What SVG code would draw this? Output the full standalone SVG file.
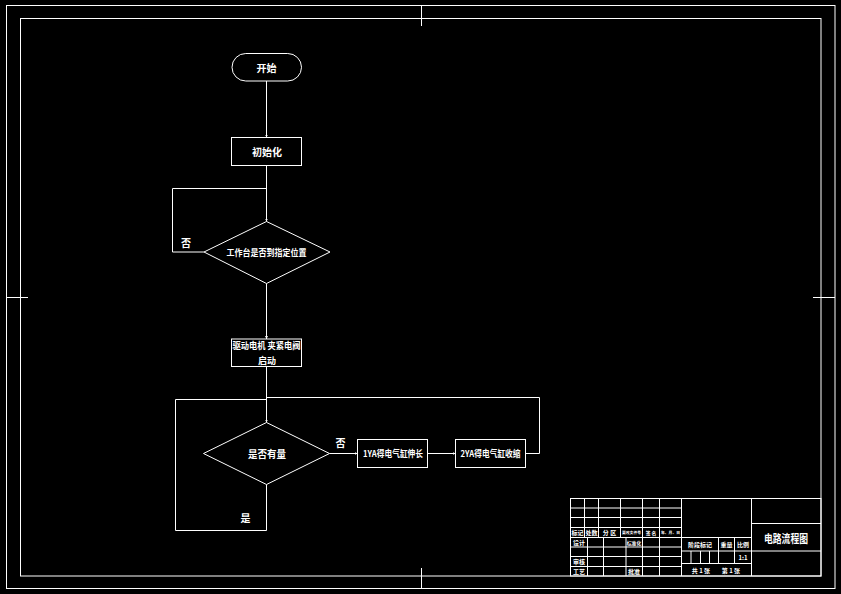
<svg xmlns="http://www.w3.org/2000/svg" width="841" height="594" viewBox="0 0 841 594">
<defs>
<style>
.ln{stroke:#fff;stroke-width:1;fill:none}
.nd{stroke:#fff;stroke-width:1;fill:none}
.tx{fill:#fff;font-family:"Noto Sans CJK SC","Noto Sans",sans-serif;font-weight:bold;text-anchor:middle;dominant-baseline:central}
.tb{fill:#fff;font-family:"Noto Sans CJK SC","Noto Sans",sans-serif;font-weight:bold;text-anchor:middle;dominant-baseline:central;font-size:6px}
</style>
<marker id="ar" viewBox="0 0 4 4" refX="4" refY="2" markerWidth="3" markerHeight="3" markerUnits="userSpaceOnUse" orient="auto">
<path d="M0,0 L4,2 L0,4 Z" fill="#fff"/>
</marker>
</defs>
<rect width="841" height="594" fill="#000"/>
<g id="frame" class="ln">
<rect x="6.5" y="5.5" width="828.5" height="583"/>
<rect x="20.5" y="18.5" width="800.5" height="557.5"/>
<line x1="421.5" y1="5.5" x2="421.5" y2="26"/>
<line x1="421.5" y1="568" x2="421.5" y2="588.5"/>
<line x1="6.5" y1="297.5" x2="28" y2="297.5"/>
<line x1="813" y1="297.5" x2="835" y2="297.5"/>
</g>
<g id="connectors" class="ln">
<line x1="266.5" y1="81" x2="266.5" y2="137.5" marker-end="url(#ar)"/>
<line x1="266.5" y1="165.5" x2="266.5" y2="221.5" marker-end="url(#ar)"/>
<polyline points="204,252 172.5,252 172.5,188.5 266.5,188.5"/>
<line x1="266.5" y1="283.5" x2="266.5" y2="339" marker-end="url(#ar)"/>
<line x1="266.5" y1="366.5" x2="266.5" y2="422.5" marker-end="url(#ar)"/>
<polyline points="266.5,484.5 266.5,530.5 175.5,530.5 175.5,399.5 266.5,399.5"/>
<line x1="329.5" y1="453.5" x2="357.5" y2="453.5" marker-end="url(#ar)"/>
<line x1="427.5" y1="453.5" x2="455.5" y2="453.5" marker-end="url(#ar)"/>
<polyline points="525.5,453.5 539.5,453.5 539.5,397.5 266.5,397.5"/>
</g>
<g id="start">
<rect class="nd" x="232" y="53.5" width="69.5" height="27.5" rx="13.75"/>
<text class="tx" x="266.5" y="67.5" font-size="10">开始</text>
</g>
<g id="init">
<rect class="nd" x="231.5" y="137.5" width="70" height="28"/>
<text class="tx" x="267" y="151.5" font-size="10">初始化</text>
</g>
<g id="check-position">
<polygon class="nd" points="266.5,221.5 330,252 266.5,283.5 204,252"/>
<text class="tx" x="266.5" y="252.5" font-size="9" textLength="80" lengthAdjust="spacingAndGlyphs">工作台是否到指定位置</text>
<text class="tx" x="186" y="242" font-size="10">否</text>
</g>
<g id="start-motor">
<rect class="nd" x="231.5" y="339" width="70" height="27.5"/>
<text class="tx" x="266.5" y="345" font-size="9" textLength="68" lengthAdjust="spacingAndGlyphs">驱动电机 夹紧电阀</text>
<text class="tx" x="267" y="360.5" font-size="9">启动</text>
</g>
<g id="check-material">
<polygon class="nd" points="266.5,422.5 329.5,453.5 266.5,484.5 203.5,453.5"/>
<text class="tx" x="267" y="453.5" font-size="10" textLength="38" lengthAdjust="spacingAndGlyphs">是否有量</text>
<text class="tx" x="340.5" y="442.5" font-size="10">否</text>
<text class="tx" x="245.5" y="517.5" font-size="10">是</text>
</g>
<g id="cyl-extend">
<rect class="nd" x="357.5" y="439.5" width="70" height="28"/>
<text class="tx" x="393" y="453.5" font-size="9" textLength="60" lengthAdjust="spacingAndGlyphs">1YA得电气缸伸长</text>
</g>
<g id="cyl-retract">
<rect class="nd" x="455.5" y="439.5" width="70" height="28"/>
<text class="tx" x="490.5" y="453.5" font-size="9" textLength="60" lengthAdjust="spacingAndGlyphs">2YA得电气缸收缩</text>
</g>
<g id="title-block" class="ln">
<rect x="570.5" y="498.5" width="250.5" height="77.5"/>
<line x1="570.5" y1="508" x2="681.5" y2="508"/>
<line x1="570.5" y1="517.5" x2="681.5" y2="517.5"/>
<line x1="570.5" y1="527.5" x2="681.5" y2="527.5"/>
<line x1="570.5" y1="537.5" x2="681.5" y2="537.5"/>
<line x1="570.5" y1="547" x2="681.5" y2="547"/>
<line x1="570.5" y1="556.5" x2="681.5" y2="556.5"/>
<line x1="570.5" y1="566.5" x2="681.5" y2="566.5"/>
<line x1="584.5" y1="498.5" x2="584.5" y2="537.5"/>
<line x1="598.5" y1="498.5" x2="598.5" y2="537.5"/>
<line x1="620.5" y1="498.5" x2="620.5" y2="537.5"/>
<line x1="642.5" y1="498.5" x2="642.5" y2="576"/>
<line x1="659.5" y1="498.5" x2="659.5" y2="576"/>
<line x1="587.5" y1="537.5" x2="587.5" y2="576"/>
<line x1="603.5" y1="537.5" x2="603.5" y2="576"/>
<line x1="626" y1="537.5" x2="626" y2="576"/>
<line x1="681.5" y1="498.5" x2="681.5" y2="576"/>
<line x1="751.5" y1="498.5" x2="751.5" y2="576"/>
<line x1="681.5" y1="537.5" x2="751.5" y2="537.5"/>
<line x1="681.5" y1="551" x2="751.5" y2="551"/>
<line x1="681.5" y1="563.5" x2="751.5" y2="563.5"/>
<line x1="691" y1="551" x2="691" y2="563.5"/>
<line x1="700.5" y1="551" x2="700.5" y2="563.5"/>
<line x1="709.5" y1="551" x2="709.5" y2="563.5"/>
<line x1="718.5" y1="537.5" x2="718.5" y2="563.5"/>
<line x1="734.5" y1="537.5" x2="734.5" y2="563.5"/>
<line x1="751.5" y1="523.5" x2="821" y2="523.5"/>
<line x1="751.5" y1="551" x2="821" y2="551"/>
</g>
<g id="title-texts">
<text class="tb" x="577.5" y="532.5" font-size="5.5">标记</text>
<text class="tb" x="591.5" y="532.5" font-size="5.5">处数</text>
<text class="tb" x="609.5" y="532.5" font-size="5.5">分 区</text>
<text class="tb" x="631.5" y="532.5" style="font-size:3.8px">更改文件号</text>
<text class="tb" x="651" y="532.5" style="font-size:4.8px">签 名</text>
<text class="tb" x="670.5" y="532.5" style="font-size:3.8px">年、月、日</text>
<text class="tb" x="579" y="542.5">设计</text>
<text class="tb" x="634" y="542.5" style="font-size:4.8px">标准化</text>
<text class="tb" x="579" y="561.5">审核</text>
<text class="tb" x="579" y="571">工艺</text>
<text class="tb" x="634" y="571">批准</text>
<text class="tb" x="700" y="544.5">阶段标记</text>
<text class="tb" x="726.5" y="544.5">重量</text>
<text class="tb" x="743" y="544.5">比例</text>
<text class="tb" x="743" y="557">1:1</text>
<text class="tb" x="701" y="570">共 1 张</text>
<text class="tb" x="731" y="570">第 1 张</text>
<text class="tx" x="786" y="537.5" font-size="11" textLength="44" lengthAdjust="spacingAndGlyphs">电路流程图</text>
</g>
</svg>
